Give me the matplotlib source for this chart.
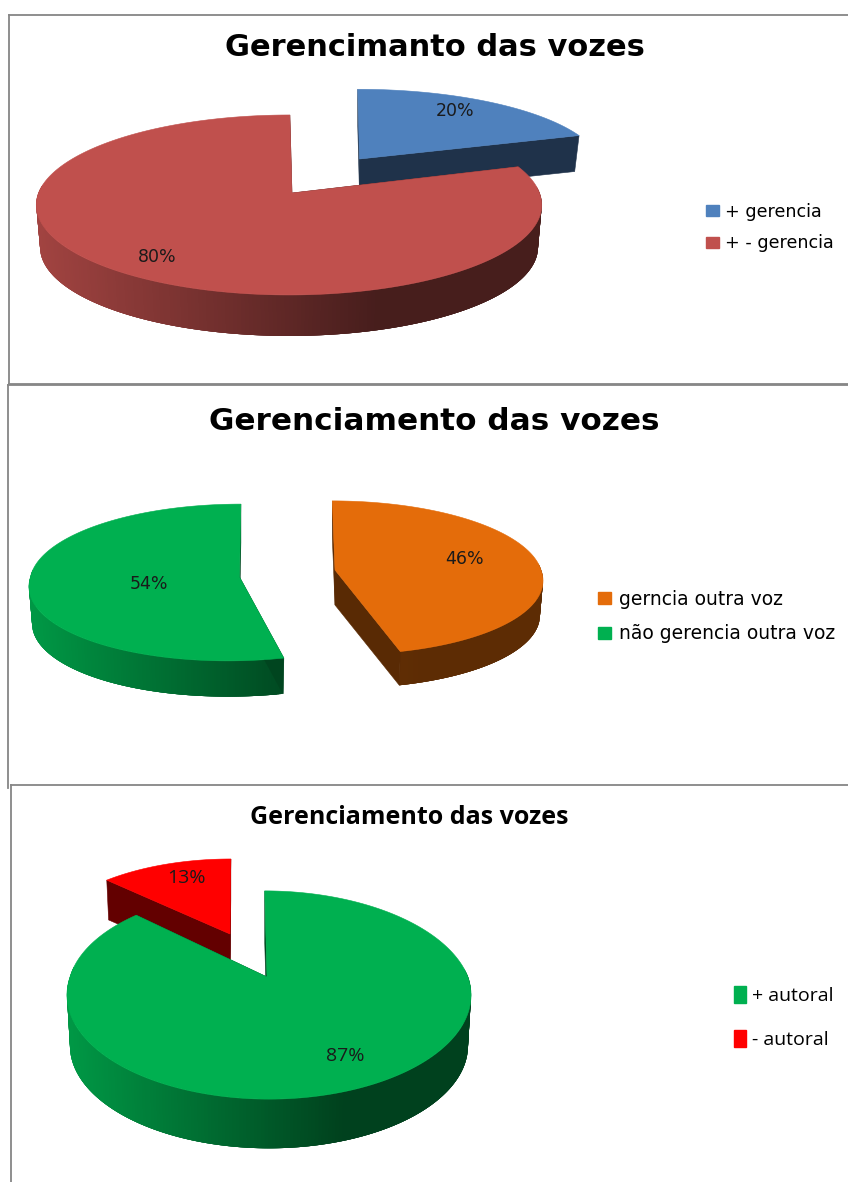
import numpy as np
import matplotlib
matplotlib.use("Agg")
import matplotlib.pyplot as plt
from matplotlib.collections import PolyCollection
from matplotlib.patches import Patch
from matplotlib.colors import to_rgb

W, H = 848, 1182

# ---- data ----
titles = ["Gerencimanto das vozes", "Gerenciamento das vozes", "Gerenciamento das vozes"]
p1_labels = ["+ gerencia", "+ - gerencia"]
p1_values = [20, 80]
p2_labels = ["gerncia outra voz", "não gerencia outra voz"]
p2_values = [46, 54]
p3_labels = ["+ autoral", "- autoral"]
p3_values = [87, 13]

# ---- style ----
p1_colors = ["#4f81bd", "#c0504d"]
p2_colors = ["#e46c0a", "#00b050"]
p3_colors = ["#00b050", "#ff0000"]

# cx, cy: apex of the slice; k: perspective; d: thickness; s: bottom-rim scale
# shade: (light factor, dark factor, x where the gradient starts, x where it is darkest)
p1_geom = [
    dict(cx=359.5, cy=159, rx=241, ry=79, k=.133, d=35.5, s=.98, tilt=-2, tiltb=0, ecx=0,
         shade=(.39, .39, 0, 1)),
    dict(cx=292, cy=193, rx=250.5, ry=88.4, k=.133, d=42.5, s=.985, tilt=1, tiltb=0, ecx=-3,
         shade=(.84, .37, 39, 378)),
]
p2_geom = [
    dict(cx=335, cy=570, rx=206, ry=76, k=.10, d=35, s=.985, tilt=-3, tiltb=-8, ecx=0,
         shade=(.42, .41, 398, 420)),
    dict(cx=239.5, cy=577, rx=209, ry=78, k=.07, d=37, s=.985, tilt=1.5, tiltb=11, ecx=0,
         shade=(.86, .42, 33, 285)),
]
p3_geom = [
    dict(cx=267, cy=977, rx=199, ry=101, k=.173, d=51, s=.985, tilt=-5, tiltb=0, ecx=2,
         shade=(.86, .37, 71, 346)),
    dict(cx=230, cy=934, rx=190, ry=88, k=.173, d=39, s=.985, tilt=1, tiltb=0, ecx=0,
         shade=(.38, .38, 0, 1)),
]


def top_rim(theta, g):
    X, Y = np.sin(theta), np.cos(theta)
    w = 1 + g["k"] * Y
    t = np.where(Y > 0, g["tilt"], g["tiltb"])
    return g["cx"] + g["ecx"] + g["rx"] * X / w + t * Y / w, g["cy"] - g["ry"] * Y / w


def lower(x, y, g):
    return g["cx"] + g["s"] * (x - g["cx"]), g["cy"] + g["d"] + g["s"] * (y - g["cy"])


def draw_slice(ax, start, end, color, g, z):
    base = np.array(to_rgb(color))
    light, dark, xl, xd = g["shade"]
    th = np.radians(np.linspace(start, end, 361))
    x, y = top_rim(th, g)
    apex = (g["cx"], g["cy"])

    # outer wall, only the part turned towards the viewer;
    # each strip overlaps the next ones so that no seams show
    idx = [i for i in range(len(th) - 1) if 85 <= np.degrees(th[i]) % 360 <= 275]
    polys, cols = [], []
    for i in idx:
        j = min(i + 4, idx[-1] + 1)
        xt, yt = x[i:j + 1], y[i:j + 1]
        xb, yb = lower(xt, yt, g)
        polys.append(np.c_[np.r_[xt, xb[::-1]], np.r_[yt, yb[::-1]]])
        f = np.clip((x[i] - xl) / (xd - xl), 0, 1)
        cols.append(np.clip(base * (light + (dark - light) * f), 0, 1))
    if polys:
        ax.add_collection(PolyCollection(polys, facecolors=cols, edgecolors="none",
                                         linewidths=0, zorder=z))

    # the two cut faces
    cut = base * .39
    for xe, ye in [(x[0], y[0]), (x[-1], y[-1])]:
        xa, ya = lower(xe, ye, g)
        xb, yb = lower(apex[0], apex[1], g)
        ax.fill([apex[0], xe, xa, xb], [apex[1], ye, ya, yb], color=cut, lw=.4, zorder=z + .1)

    # top face
    ax.fill(np.r_[apex[0], x], np.r_[apex[1], y], color=color, lw=.4, zorder=z + .2)


def draw_pie(ax, values, colors, geom, order):
    edges = np.r_[0, np.cumsum(values)] * 360 / np.sum(values)
    for n, i in enumerate(order):
        # later slices paint over earlier ones
        draw_slice(ax, edges[i], edges[i + 1], colors[i], geom[i], 3 + n)


def panel(x0, y0, x1, y1, sides):
    ax = fig.add_axes([x0 / W, 1 - y1 / H, (x1 - x0) / W, (y1 - y0) / H])
    ax.set_xlim(x0, x1); ax.set_ylim(y1, y0)
    ax.set_xticks([]); ax.set_yticks([])
    ax.patch.set_alpha(0)
    for name, sp in ax.spines.items():
        sp.set_visible(name in sides)
        sp.set_color("#868686"); sp.set_linewidth(1.3)
    return ax


def add_legend(ax, labels, colors, x, y, font, spacing, hl, hh, pad):
    leg = ax.legend(handles=[Patch(color=c, label=l) for c, l in zip(colors, labels)],
                    loc="upper left", bbox_to_anchor=(x, y), bbox_transform=ax.transData,
                    frameon=False, borderpad=0, borderaxespad=0, prop=font,
                    labelspacing=spacing, handlelength=hl, handleheight=hh, handletextpad=pad)
    leg.set_zorder(10)


fig = plt.figure(figsize=(W / 100, H / 100), dpi=100, facecolor="white")
wide = dict(family="DejaVu Sans")
calib = dict(family="Open Sans")
ink = "#1a1a1a"

# panel 1
a1 = panel(9, 15, W + 3, 384, ("left", "top", "bottom"))
a1.text(434.5, 48, titles[0], ha="center", va="center", fontsize=22, fontweight="bold", **wide)
draw_pie(a1, p1_values, p1_colors, p1_geom, [0, 1])
a1.text(455, 111, f"{p1_values[0]}%", ha="center", va="center", fontsize=12.5, zorder=20, color=ink, **wide)
a1.text(157, 257, f"{p1_values[1]}%", ha="center", va="center", fontsize=12.5, zorder=20, color=ink, **wide)
add_legend(a1, p1_labels, p1_colors, 706, 203, {"family": "DejaVu Sans", "size": 12.6}, .77, .74, .57, .34)

# panel 2
a2 = panel(8, 385, W + 3, 788, ("left", "top"))
a2.text(434, 421, titles[1], ha="center", va="center", fontsize=22.4, fontweight="bold", **wide)
draw_pie(a2, p2_values, p2_colors, p2_geom, [0, 1])
a2.text(464, 559, f"{p2_values[0]}%", ha="center", va="center", fontsize=12.5, zorder=20, color=ink, **wide)
a2.text(149, 584, f"{p2_values[1]}%", ha="center", va="center", fontsize=12.5, zorder=20, color=ink, **wide)
add_legend(a2, p2_labels, p2_colors, 598, 590, {"family": "DejaVu Sans", "size": 13.5}, .81, .69, .6, .43)

# panel 3
a3 = panel(11, 785, W + 3, H + 3, ("left", "top"))
a3.text(409, 818, titles[2], ha="center", va="center", fontsize=18, fontweight="bold", **calib)
draw_pie(a3, p3_values, p3_colors, p3_geom, [1, 0])
a3.text(345, 1056, f"{p3_values[0]}%", ha="center", va="center", fontsize=14, zorder=20, color=ink, **calib)
a3.text(186, 878, f"{p3_values[1]}%", ha="center", va="center", fontsize=14, zorder=20, color=ink, **calib)
add_legend(a3, p3_labels, p3_colors, 734, 986, {"family": "Open Sans", "size": 14}, 1.26, .6, 1.0, .3)

fig.savefig("out.png", dpi=100, facecolor="white")
